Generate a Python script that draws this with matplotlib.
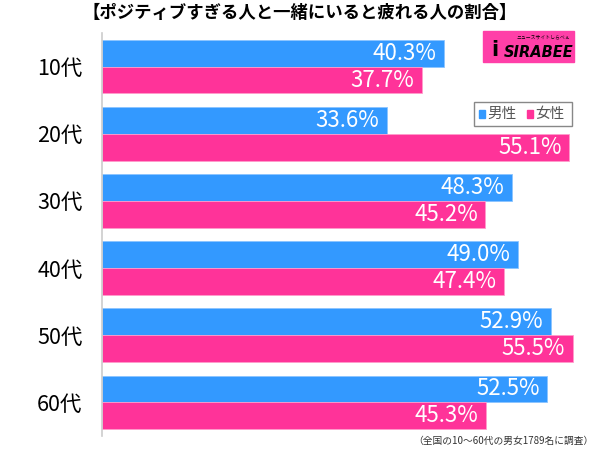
import matplotlib.pyplot as plt
from matplotlib.patches import Rectangle
import numpy as np

plt.rcParams['font.family'] = ['Noto Sans CJK JP', 'DejaVu Sans']

# データ
ages = ["10代", "20代", "30代", "40代", "50代", "60代"]
male = [40.3, 33.6, 48.3, 49.0, 52.9, 52.5]
female = [37.7, 55.1, 45.2, 47.4, 55.5, 45.3]
series_names = ["男性", "女性"]

blue = "#3399ff"
pink = "#ff3399"

fig = plt.figure(figsize=(6, 4.49), dpi=100)
ax = fig.add_axes([0.17, 0.029, 0.83, 0.8975])

y = np.arange(len(ages))
h = 0.4
ax.barh(y - h / 2, male, height=h, color=blue, edgecolor="#8cc4ff", linewidth=0.6)
ax.barh(y + h / 2, female, height=h, color=pink, edgecolor="#ff9ccc", linewidth=0.6)

for i in range(len(ages)):
    ax.text(male[i] - 0.9, y[i] - h / 2, f"{male[i]:.1f}%", color="white",
            fontsize=16, ha="right", va="center")
    ax.text(female[i] - 0.9, y[i] + h / 2, f"{female[i]:.1f}%", color="white",
            fontsize=16, ha="right", va="center")

ax.set_xlim(0, 58.7)
ax.set_ylim(5.5, -0.5)
ax.set_yticks(y)
ax.set_yticklabels(ages, fontsize=15.5)
ax.tick_params(axis="y", length=0, pad=14)
ax.set_xticks([])
for s in ["top", "right", "bottom"]:
    ax.spines[s].set_visible(False)
ax.spines["left"].set_color("#cccccc")
ax.spines["left"].set_linewidth(1.2)

# タイトル
fig.text(0.5, 0.972, "【ポジティブすぎる人と一緒にいると疲れる人の割合】",
         ha="center", va="center", fontsize=12.5, fontweight="bold")

# 凡例
lx, ly, lw, lh = 0.79, 0.72, 0.163, 0.052
fig.patches.append(Rectangle((lx, ly), lw, lh, transform=fig.transFigure,
                             facecolor="white", edgecolor="#888888", linewidth=1))
fig.patches.append(Rectangle((lx + 0.008, ly + 0.017), 0.011, 0.017,
                             transform=fig.transFigure, color=blue))
fig.text(lx + 0.022, ly + lh / 2, series_names[0], fontsize=10.5, color="#555555",
         va="center", ha="left")
fig.patches.append(Rectangle((lx + 0.088, ly + 0.017), 0.011, 0.017,
                             transform=fig.transFigure, color=pink))
fig.text(lx + 0.102, ly + lh / 2, series_names[1], fontsize=10.5, color="#555555",
         va="center", ha="left")

# ロゴ
fig.patches.append(Rectangle((0.805, 0.862), 0.152, 0.07, transform=fig.transFigure,
                             color="#ff3fa8"))
fig.text(0.897, 0.882, "SIRABEE", fontsize=10.5, fontweight="bold", style="italic",
         color="black", ha="center", va="center", family="DejaVu Sans")
fig.text(0.825, 0.888, "i", fontsize=15, fontweight="bold",
         color="black", ha="center", va="center", family="DejaVu Sans")
fig.text(0.905, 0.918, "ニュースサイトしらべぇ", fontsize=3.5, color="black",
         ha="center", va="center")

# 注記
fig.text(0.99, 0.018, "（全国の10～60代の男女1789名に調査）", fontsize=7,
         ha="right", va="center", color="#333333")

fig.savefig("out.png", dpi=100)
